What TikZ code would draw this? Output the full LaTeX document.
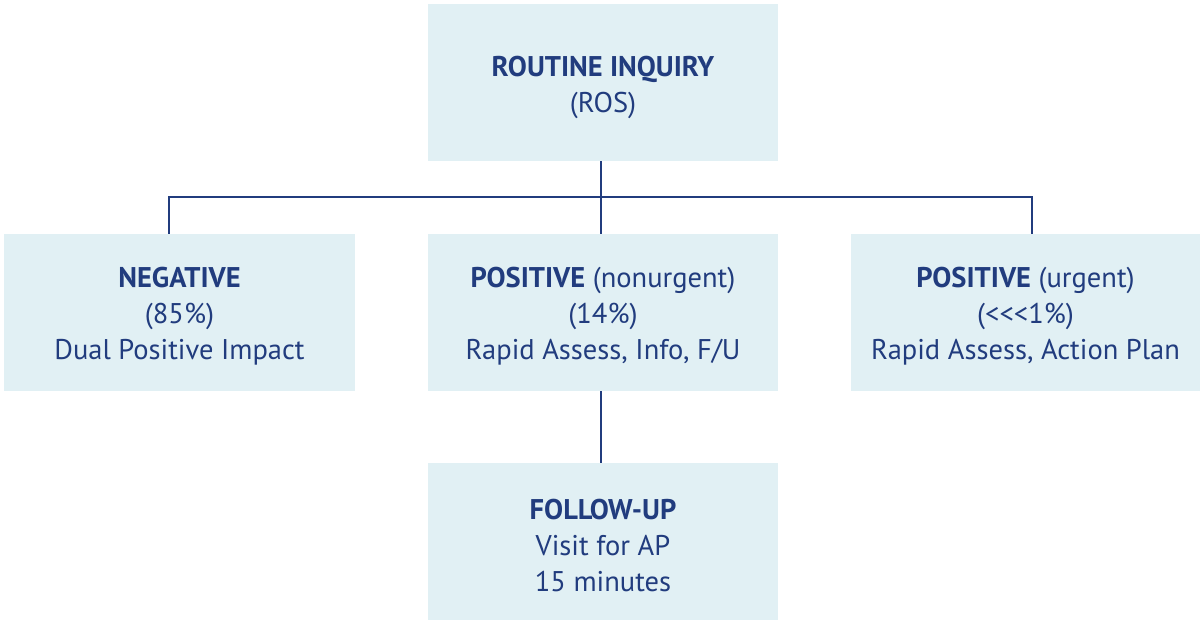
\documentclass[tikz,border=0pt]{standalone}
\usepackage{fontspec}
\setmainfont{PT Sans}
\definecolor{navy}{HTML}{213C7E}
\definecolor{boxfill}{HTML}{E1F0F4}
\begin{document}
\begin{tikzpicture}[x=1pt,y=-1pt,
  box/.style={fill=boxfill, inner sep=0pt, minimum height=157pt},
  boxtext/.style={text=navy, inner sep=0pt, align=center,
    font=\fontsize{28.5}{36}\selectfont},
  link/.style={draw=navy, line width=2.6pt}]
\useasboundingbox (0,0) rectangle (1200,621);
% boxes
\node[box, minimum width=350pt] (top) at (603,82.5) {};
\node[box, minimum width=351pt] (neg) at (179.5,312.5) {};
\node[box, minimum width=350pt] (nonurg) at (603,312.5) {};
\node[box, minimum width=349pt] (urg) at (1025.5,312.5) {};
\node[box, minimum width=350pt] (fu) at (603,541.5) {};
% box texts
\node[boxtext] (topt) at ([yshift=-5pt]top.center)
  {\textbf{ROUTINE INQUIRY}\\(ROS)};
\node[boxtext] (negt) at ([yshift=-4pt]neg.center)
  {\textbf{NEGATIVE}\\(85\%)\\Dual Positive Impact};
\node[boxtext] (nonurgt) at ([yshift=-4pt]nonurg.center)
  {\textbf{POSITIVE} (nonurgent)\\(14\%)\\Rapid Assess, Info, F/U};
\node[boxtext] (urgt) at ([yshift=-4pt]urg.center)
  {\textbf{POSITIVE} (urgent)\\(<{}<{}<1\%)\\Rapid Assess, Action Plan};
\node[boxtext] (fut) at ([yshift=-4pt]fu.center)
  {\textbf{FOLLOW-UP}\\Visit for AP\\15 minutes};
% connectors
\coordinate (split) at (601,197);
\draw[link] ([xshift=-2pt]top.south) -- ([xshift=-2pt]nonurg.north);
\draw[link] ([xshift=-10.5pt]neg.north) |- (split) -| ([xshift=6.5pt]urg.north);
\draw[link] ([xshift=-2pt]nonurg.south) -- ([xshift=-2pt]fu.north);
\end{tikzpicture}
\end{document}
